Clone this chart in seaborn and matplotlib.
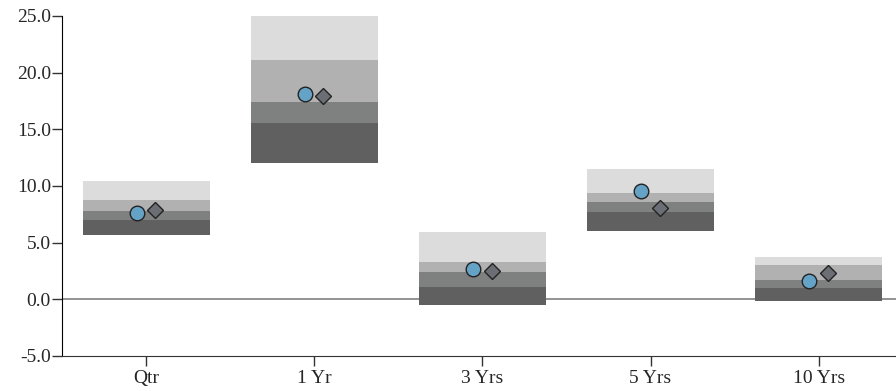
import pandas as pd
import numpy as np
import matplotlib
matplotlib.use('Agg')
import matplotlib.pyplot as plt
import seaborn as sns

# periods on the x axis
periods = ['Qtr', '1 Yr', '3 Yrs', '5 Yrs', '10 Yrs']

# range bands (bottom -> top): 95th, 75th, median, 25th, 5th percentile
p95 = [5.65, 12.05, -0.50, 6.05, -0.12]
p75 = [7.00, 15.60, 1.09, 7.73, 0.97]
p50 = [7.82, 17.40, 2.38, 8.56, 1.73]
p25 = [8.77, 21.10, 3.32, 9.41, 3.03]
p05 = [10.40, 25.00, 5.91, 11.50, 3.71]

# fund and benchmark returns
fund = [7.60, 18.10, 2.65, 9.60, 1.64]
bench = [7.85, 17.97, 2.52, 8.10, 2.29]

band_colors = ['#606060', '#7f8180', '#b1b1b1', '#dcdcdc']
fund_color = '#64a2c6'
bench_color = '#6b6e74'

sns.set_style('ticks')
plt.rcParams['font.family'] = ['Liberation Serif', 'DejaVu Serif']
plt.rcParams['font.size'] = 14

fig = plt.figure(figsize=(8.96, 3.91), dpi=100)
ax = fig.add_axes([62 / 896, 1 - 356 / 391, 1 - 62 / 896, (356 - 16) / 391])

ax.axhline(0, color='#808080', lw=1.2, zorder=0.5)

lows = [p95, p75, p50, p25]
highs = [p75, p50, p25, p05]
for lo, hi, col in zip(lows, highs, band_colors):
    df = pd.DataFrame({'period': periods,
                       'height': np.array(hi) - np.array(lo)})
    sns.barplot(data=df, x='period', y='height', order=periods,
                bottom=np.array(lo), width=0.755, color=col,
                saturation=1, linewidth=0, edgecolor='none', ax=ax, zorder=1)

pts = pd.DataFrame({
    'period': periods * 2,
    'value': fund + bench,
    'series': ['Fund'] * len(fund) + ['Benchmark'] * len(bench),
})
sns.pointplot(data=pts, x='period', y='value', hue='series', order=periods,
              hue_order=['Fund', 'Benchmark'], dodge=0.11, markers=['o', 'D'],
              linestyles='none', palette=[fund_color, bench_color],
              errorbar=None, legend=False, ax=ax)
for ln in ax.lines:
    mk = ln.get_marker()
    if mk in ('o', 'D'):
        ln.set_markersize(10.5 if mk == 'o' else 8)
        ln.set_markeredgecolor('#222222')
        ln.set_markeredgewidth(1)
        ln.set_zorder(3)

ax.set_xlim(-0.5, 4.46)
ax.set_ylim(-5, 25)
ax.set_yticks([-5, 0, 5, 10, 15, 20, 25])
ax.yaxis.set_major_formatter(matplotlib.ticker.FormatStrFormatter('%.1f'))
ax.set_xlabel('')
ax.set_ylabel('')
sns.despine(ax=ax)
ax.spines['left'].set_color('#000000')
ax.spines['bottom'].set_color('#333333')
ax.tick_params(axis='both', length=7, width=1, color='#333333', labelsize=14, pad=1)
ax.tick_params(axis='x', pad=3)

fig.savefig('out.png', dpi=100)
